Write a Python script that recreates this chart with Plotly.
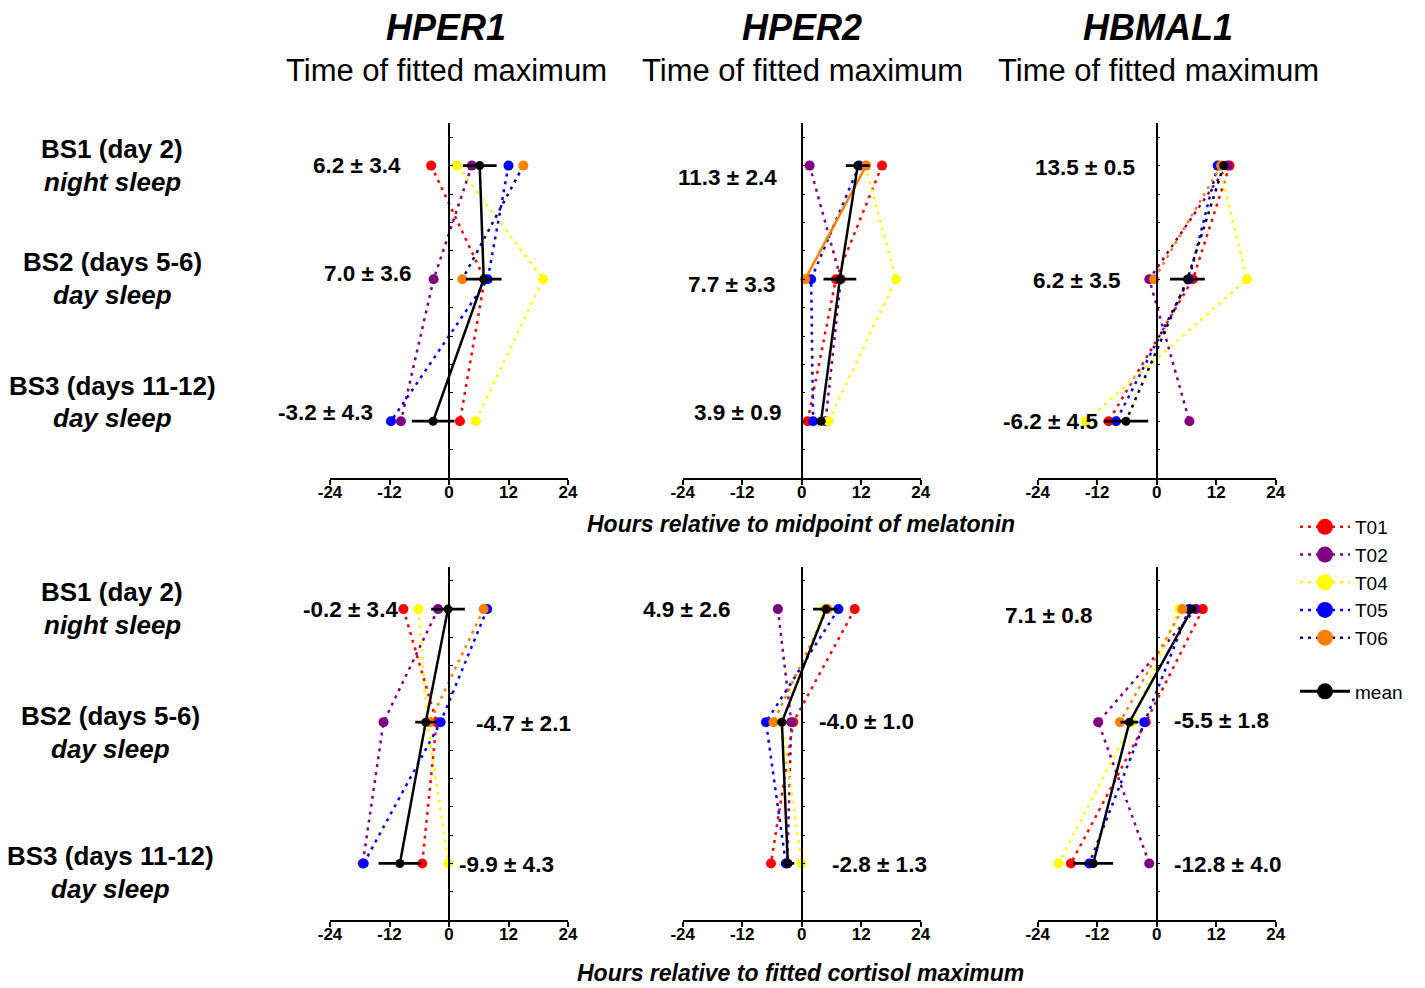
import plotly.graph_objects as go

W, H = 1425, 988

# ---------------- data ----------------
genes = ["HPER1", "HPER2", "HBMAL1"]
col_subtitle = "Time of fitted maximum"
session_titles = ["BS1 (day 2)", "BS2 (days 5-6)", "BS3 (days 11-12)"]
sleep_types = ["night sleep", "day sleep", "day sleep"]
subjects = ["T01", "T02", "T04", "T05", "T06"]
x_ticks = [-24, -12, 0, 12, 24]
x_tick_labels = ["-24", "-12", "0", "12", "24"]
x_titles = ["Hours relative to midpoint of melatonin",
            "Hours relative to fitted cortisol maximum"]

# peak times (h) for BS1, BS2, BS3 ; relative to melatonin midpoint
mel_hper1 = {"T01": [-3.6, 7.2, 2.2], "T02": [4.6, -3.1, -9.7], "T04": [1.6, 19.0, 5.4],
             "T05": [12.0, 7.8, -11.7], "T06": [15.0, 2.7, None]}
mel_hper1_mean = [6.2, 7.0, -3.2]
mel_hper1_sem = [3.4, 3.6, 4.3]

mel_hper2 = {"T01": [16.2, 6.9, 1.2], "T02": [1.6, 7.9, 4.8], "T04": [12.8, 19.0, 5.4],
             "T05": [11.6, 1.9, 2.3], "T06": [13.0, 0.7, None]}
mel_hper2_mean = [11.3, 7.7, 3.9]
mel_hper2_sem = [2.4, 3.3, 0.9]

mel_hbmal1 = {"T01": [14.7, 7.3, -9.7], "T02": [14.3, -1.5, 6.6], "T04": [12.6, 18.2, -14.3],
              "T05": [12.3, 6.5, -8.2], "T06": [13.0, -0.5, None]}
mel_hbmal1_mean = [13.5, 6.2, -6.2]
mel_hbmal1_sem = [0.5, 3.5, 4.5]

# relative to fitted cortisol maximum
cor_hper1 = {"T01": [-9.2, -2.5, -5.4], "T02": [-2.2, -13.2, -17.4], "T04": [-6.2, -4.4, -0.1],
             "T05": [7.7, -1.7, -17.2], "T06": [7.0, -3.9, None]}
cor_hper1_mean = [-0.2, -4.7, -9.9]
cor_hper1_sem = [3.4, 2.1, 4.3]

cor_hper2 = {"T01": [10.7, -1.7, -6.2], "T02": [-4.8, -2.1, -2.9], "T04": [4.6, -4.0, 0.0],
             "T05": [7.4, -7.2, -3.2], "T06": [5.2, -5.7, None]}
cor_hper2_mean = [4.9, -4.0, -2.8]
cor_hper2_sem = [2.6, 1.0, 1.3]

cor_hbmal1 = {"T01": [9.3, -2.2, -17.3], "T02": [7.9, -11.8, -1.5], "T04": [4.6, -5.0, -19.8],
              "T05": [6.5, -2.5, -13.6], "T06": [5.2, -7.4, None]}
cor_hbmal1_mean = [7.1, -5.5, -12.8]
cor_hbmal1_sem = [0.8, 1.8, 4.0]

# ---------------- styles / layout ----------------
FONT = "Liberation Sans, Arial, sans-serif"
marker_colors = {"T01": "#ff0000", "T02": "#800080", "T04": "#ffff00",
                 "T05": "#0000ff", "T06": "#ff8000"}
line_colors = {"T01": "#ff0000", "T02": "#800080", "T04": "#ffff00",
               "T05": "#0000ff", "T06": "#000080"}
DOT = "3px,5px"
session_pos = [11, 7, 2]          # vertical slot of BS1, BS2, BS3

panels = [
    (mel_hper1, mel_hper1_mean, mel_hper1_sem),
    (mel_hper2, mel_hper2_mean, mel_hper2_sem),
    (mel_hbmal1, mel_hbmal1_mean, mel_hbmal1_sem),
    (cor_hper1, cor_hper1_mean, cor_hper1_sem),
    (cor_hper2, cor_hper2_mean, cor_hper2_sem),
    (cor_hbmal1, cor_hbmal1_mean, cor_hbmal1_sem),
]
# per-panel quirks of the original drawing
t06_style = [("#000080", DOT), ("#ff8000", "solid"), ("#ff8000", DOT),
             ("#ff8000", DOT), ("#ff8000", DOT), ("#ff8000", DOT)]
mean_dash = ["solid", "solid", DOT, "solid", "solid", "solid"]

# value-label placement (data coords of each panel): (x, y, xanchor)
label_pos = [
    [(-9.3, 10.99, "right"), (-7.3, 7.2, "right"), (-14.9, 2.29, "right")],
    [(-4.5, 10.59, "right"), (-4.9, 6.81, "right"), (-3.7, 2.29, "right")],
    [(-4.0, 10.94, "right"), (-7.0, 6.95, "right"), (-11.4, 1.98, "right")],
    [(-9.9, 11.0, "right"), (5.0, 6.97, "left"), (1.6, 1.98, "left")],
    [(-14.0, 11.0, "right"), (3.0, 7.04, "left"), (5.8, 1.95, "left")],
    [(-12.6, 10.79, "right"), (3.1, 7.07, "left"), (3.1, 1.98, "left")],
]

col_x0 = [330, 682.7, 1037.7]
col_w = 238
rows_px = [(123, 478), (566.7, 920)]

fig = go.Figure()

for i, (data, mean, sem) in enumerate(panels):
    r, c = divmod(i, 3)
    ax = "" if i == 0 else str(i + 1)
    xref, yref = "x" + ax, "y" + ax
    for s in subjects:
        lc, dash = line_colors[s], DOT
        if s == "T06":
            lc, dash = t06_style[i]
        fig.add_trace(go.Scatter(
            x=data[s], y=session_pos, xaxis=xref, yaxis=yref, mode="lines+markers",
            line=dict(color=lc, width=2.5, dash=dash),
            marker=dict(color=marker_colors[s], size=10, line=dict(width=0)),
            showlegend=False, cliponaxis=False, hoverinfo="x+name", name=s))
    fig.add_trace(go.Scatter(
        x=mean, y=session_pos, xaxis=xref, yaxis=yref, mode="lines+markers",
        line=dict(color="black", width=2.5, dash=mean_dash[i]),
        marker=dict(color="black", size=9),
        error_x=dict(type="data", array=sem, color="black", thickness=2.8, width=0),
        showlegend=False, cliponaxis=False, name="mean"))

    x0 = col_x0[c] / W
    x1 = (col_x0[c] + col_w) / W
    yt, yb = rows_px[r]
    fig.layout["xaxis" + ax] = dict(
        domain=[x0, x1], range=[-24, 24], anchor=yref,
        tickvals=x_ticks, ticktext=x_tick_labels, ticks="outside", ticklen=5,
        tickwidth=1.5, tickcolor="black", showline=True, linecolor="black",
        linewidth=1.5, showgrid=False, zeroline=False, ticklabelstandoff=-7,
        tickfont=dict(family=FONT, size=17, color="black", weight="bold"))
    fig.layout["yaxis" + ax] = dict(
        domain=[1 - yb / H, 1 - yt / H], range=[0, 12.5], anchor="free",
        position=(x0 + x1) / 2, tickvals=list(range(1, 13)), ticks="inside",
        ticklen=3, tickwidth=1.2, tickcolor="black", showticklabels=False,
        showline=True, linecolor="black", linewidth=1.5, showgrid=False,
        zeroline=False)

    for k in range(3):
        lx, ly, anc = label_pos[i][k]
        fig.add_annotation(x=lx, y=ly, xref=xref, yref=yref, xanchor=anc,
                           yanchor="middle", showarrow=False,
                           text="<b>%.1f ± %.1f</b>" % (mean[k], sem[k]),
                           font=dict(family=FONT, size=22.5, color="black"))

# legend-only traces
for s in subjects:
    fig.add_trace(go.Scatter(
        x=[None], y=[None], mode="lines+markers", name=s, legendgroup="subj",
        line=dict(color=line_colors[s], width=2.5, dash=DOT),
        marker=dict(color=marker_colors[s], size=16)))
fig.add_trace(go.Scatter(
    x=[None], y=[None], mode="lines+markers", name="mean", legendgroup="mean",
    line=dict(color="black", width=3), marker=dict(color="black", size=16)))


def paper_text(px, py, text, size, xanchor="center"):
    fig.add_annotation(x=px / W, y=1 - py / H, xref="paper", yref="paper",
                       xanchor=xanchor, yanchor="middle", showarrow=False, text=text,
                       font=dict(family=FONT, size=size, color="black"))


gene_cx = [446, 802, 1158]
for g, cx in zip(genes, gene_cx):
    paper_text(cx, 27, "<b><i>%s</i></b>" % g, 36)
    paper_text(cx, 71, col_subtitle, 31)

row_label_px = [
    [(112, 149, 182), (112, 262, 295), (112, 386, 418)],
    [(112, 592, 625), (110, 716, 749), (110, 856, 889)],
]
for r in range(2):
    for k in range(3):
        cx, y1, y2 = row_label_px[r][k]
        paper_text(cx, y1, "<b>%s</b>" % session_titles[k], 26)
        paper_text(cx, y2, "<b><i>%s</i></b>" % sleep_types[k], 26)

paper_text(801, 524, "<b><i>%s</i></b>" % x_titles[0], 23)
paper_text(800, 973, "<b><i>%s</i></b>" % x_titles[1], 23)

fig.update_layout(
    width=W, height=H, margin=dict(l=0, r=0, t=0, b=0, autoexpand=False),
    paper_bgcolor="white", plot_bgcolor="white",
    font=dict(family=FONT, color="black"),
    legend=dict(x=1295 / W, y=1 - 508 / H, xanchor="left", yanchor="top",
                font=dict(family=FONT, size=19, color="black"),
                traceorder="grouped", tracegroupgap=26, itemwidth=50,
                bgcolor="rgba(0,0,0,0)"),
)

fig.write_html(
    "out.html",
    config={"displayModeBar": False},
    post_script="document.body.style.margin='0';document.body.style.overflow='hidden';")
